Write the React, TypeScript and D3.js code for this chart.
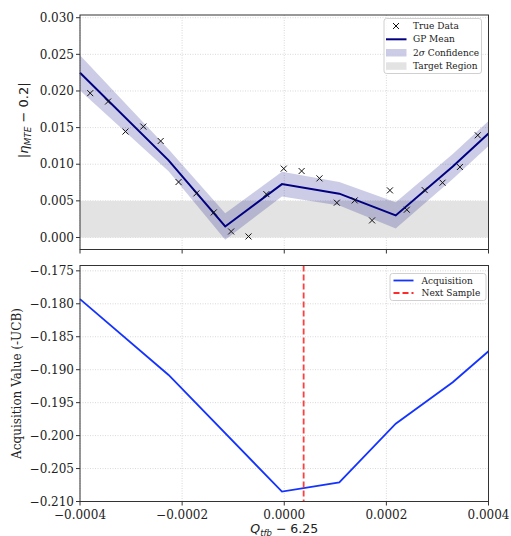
import React from 'react'
import * as d3 from 'd3'

// True data samples
const trueX = [-0.00038, -0.000345, -0.000311, -0.000276, -0.000242, -0.000207, -0.000172, -0.000138, -0.000104, -0.00007, -0.000035, -0.000001, 0.000034, 0.000069, 0.000103, 0.000138, 0.000172, 0.000207, 0.00024, 0.000275, 0.00031, 0.000344, 0.000379]
const trueY = [0.0197, 0.01856, 0.01446, 0.01514, 0.01317, 0.00757, 0.00602, 0.00342, 0.00082, 0.00014, 0.00592, 0.0094, 0.00907, 0.00807, 0.00475, 0.00506, 0.00233, 0.00643, 0.00379, 0.00647, 0.00748, 0.00962, 0.01395]

// GP prediction
const gpX = [-0.0004, -0.0002265, -0.0001156, -0.0000045, 0.0001078, 0.0002183, 0.00033, 0.0004]
const gpMean = [0.02248, 0.01053, 0.0015, 0.00729, 0.00598, 0.00301, 0.0097, 0.01419]
const gpSigma2 = [0.0024, 0.0015, 0.0018, 0.0017, 0.0016, 0.0018, 0.0017, 0.0017]

// Acquisition function
const acqX = [-0.0004, -0.0002265, -0.0000045, 0.0001078, 0.0002183, 0.00033, 0.0004]
const acqY = [-0.1793, -0.1908, -0.2085, -0.2071, -0.1982, -0.1919, -0.1872]
const nextSample = 0.000038

const targetRange = [0, 0.005]
const xTicks = [-0.0004, -0.0002, 0, 0.0002, 0.0004]
const topYTicks = [0, 0.005, 0.01, 0.015, 0.02, 0.025, 0.03]
const botYTicks = [-0.21, -0.205, -0.2, -0.195, -0.19, -0.185, -0.18, -0.175]

export default function App() {
  const width = 511
  const height = 536
  const left = 80
  const right = 488.5
  const top1 = 15, bot1 = 249.5
  const top2 = 265.5, bot2 = 501.5
  const serif = 'DejaVu Serif, serif'
  const sans = 'DejaVu Sans, sans-serif'

  const x = d3.scaleLinear().domain([-0.0004, 0.0004]).range([left, right])
  const y1 = d3.scaleLinear().domain([-0.00164, 0.03037]).range([bot1, top1])
  const y2 = d3.scaleLinear().domain([-0.21, -0.17419]).range([bot2, top2])

  const meanLine = d3.line<number>().x((d, i) => x(gpX[i])).y(d => y1(d))(gpMean) || ''
  const band = d3.area<number>()
    .x((d, i) => x(gpX[i]))
    .y0((d, i) => y1(d - gpSigma2[i]))
    .y1((d, i) => y1(d + gpSigma2[i]))(gpMean) || ''
  const acqLine = d3.line<number>().x((d, i) => x(acqX[i])).y(d => y2(d))(acqY) || ''

  const fmtX = (v: number) => (v === 0 ? '0.0000' : d3.format('.4f')(v).replace('-', '\u2212'))
  const fmtY = (v: number) => d3.format('.3f')(v).replace('-', '\u2212')

  const grid = (ys: number[], sy: any, t: number, b: number) => (
    <g stroke="#cfcfcf" strokeWidth={0.8} strokeDasharray="1,1.5">
      {xTicks.map((v, i) => <line key={'gx' + i} x1={x(v)} x2={x(v)} y1={t} y2={b} />)}
      {ys.map((v, i) => <line key={'gy' + i} x1={left} x2={right} y1={sy(v)} y2={sy(v)} />)}
    </g>
  )

  const yAxis = (ys: number[], sy: any) => (
    <g>
      {ys.map((v, i) => (
        <g key={i}>
          <line x1={left - 4} x2={left} y1={sy(v)} y2={sy(v)} stroke="#333" />
          <text x={left - 6} y={sy(v)} dy="0.35em" textAnchor="end" fontFamily={serif} fontSize={12} fill="#222">{fmtY(v)}</text>
        </g>
      ))}
    </g>
  )

  return (
    <svg width={width} height={height} style={{ position: 'absolute', left: 0, top: 0 }}>
      <rect width={width} height={height} fill="#fff" />

      {/* Top panel */}
      {grid(topYTicks, y1, top1, bot1)}
      <rect x={left} width={right - left} y={y1(targetRange[1])} height={y1(targetRange[0]) - y1(targetRange[1])} fill="#e3e3e3" />
      <path d={band} fill="#000080" fillOpacity={0.2} stroke="none" />
      <path d={meanLine} fill="none" stroke="#000080" strokeWidth={2} />
      <g stroke="#111" strokeWidth={1}>
        {trueX.map((v, i) => (
          <g key={i} transform={`translate(${x(v)},${y1(trueY[i])})`}>
            <line x1={-3} y1={-3} x2={3} y2={3} />
            <line x1={-3} y1={3} x2={3} y2={-3} />
          </g>
        ))}
      </g>
      <rect x={left} y={top1} width={right - left} height={bot1 - top1} fill="none" stroke="#333" />
      {yAxis(topYTicks, y1)}
      {xTicks.map((v, i) => <line key={i} x1={x(v)} x2={x(v)} y1={bot1} y2={bot1 + 4} stroke="#333" />)}
      <text transform={`translate(28,${(top1 + bot1) / 2 - 12}) rotate(-90)`} textAnchor="middle" fontFamily={sans} fontSize={13} fill="#222">
        <tspan>|</tspan><tspan fontStyle="italic">η</tspan><tspan fontStyle="italic" fontSize={9} dy="3">MTE</tspan><tspan dy="-3"> − 0.2|</tspan>
      </text>

      {/* Top legend */}
      <g fontFamily={serif} fontSize={9} fill="#222">
        <rect x={384} y={18.5} width={97.5} height={55} rx={2.5} fill="#fff" fillOpacity={0.8} stroke="#d0d0d0" />
        <g stroke="#111"><line x1={393} y1={23} x2={399} y2={29} /><line x1={393} y1={29} x2={399} y2={23} /></g>
        <text x={413} y={26} dy="0.35em">True Data</text>
        <line x1={386} x2={406.5} y1={39.3} y2={39.3} stroke="#000080" strokeWidth={2} />
        <text x={413} y={39.3} dy="0.35em">GP Mean</text>
        <rect x={386} y={49} width={20.5} height={7.5} fill="#000080" fillOpacity={0.2} />
        <text x={413} y={52.7} dy="0.35em"><tspan>2</tspan><tspan fontStyle="italic">σ</tspan><tspan> Confidence</tspan></text>
        <rect x={386} y={62.3} width={20.5} height={7.5} fill="#e3e3e3" />
        <text x={413} y={66} dy="0.35em">Target Region</text>
      </g>

      {/* Bottom panel */}
      {grid(botYTicks, y2, top2, bot2)}
      <path d={acqLine} fill="none" stroke="#1433ff" strokeWidth={1.8} />
      <line x1={x(nextSample)} x2={x(nextSample)} y1={top2} y2={bot2} stroke="#ff2a2a" strokeOpacity={0.9} strokeWidth={1.8} strokeDasharray="6,3" />
      <rect x={left} y={top2} width={right - left} height={bot2 - top2} fill="none" stroke="#333" />
      {yAxis(botYTicks, y2)}
      {xTicks.map((v, i) => (
        <g key={i}>
          <line x1={x(v)} x2={x(v)} y1={bot2} y2={bot2 + 4} stroke="#333" />
          <text x={x(v)} y={bot2 + 13} dy="0.35em" textAnchor="middle" fontFamily={serif} fontSize={12} fill="#222">{fmtX(v)}</text>
        </g>
      ))}
      <text transform={`translate(17,${(top2 + bot2) / 2}) rotate(-90)`} dy="0.35em" textAnchor="middle" fontFamily={serif} fontSize={12} fill="#222">Acquisition Value (-UCB)</text>
      <text x={(left + right) / 2} y={533} textAnchor="middle" fontFamily={sans} fontSize={12.5} fill="#222">
        <tspan fontStyle="italic">Q</tspan><tspan fontStyle="italic" fontSize={8.5} dy="2.5">tfb</tspan><tspan dy="-2.5"> − 6.25</tspan>
      </text>

      {/* Bottom legend */}
      <g fontFamily={serif} fontSize={9} fill="#222">
        <rect x={390} y={273.5} width={96} height={27} rx={2.5} fill="#fff" fillOpacity={0.8} stroke="#d0d0d0" />
        <line x1={393.5} x2={413.5} y1={280.5} y2={280.5} stroke="#1433ff" strokeWidth={1.8} />
        <text x={421.5} y={280.5} dy="0.35em">Acquisition</text>
        <line x1={393.5} x2={413.5} y1={293} y2={293} stroke="#ff2a2a" strokeWidth={1.8} strokeDasharray="6,3" />
        <text x={421.5} y={293} dy="0.35em">Next Sample</text>
      </g>
    </svg>
  )
}
